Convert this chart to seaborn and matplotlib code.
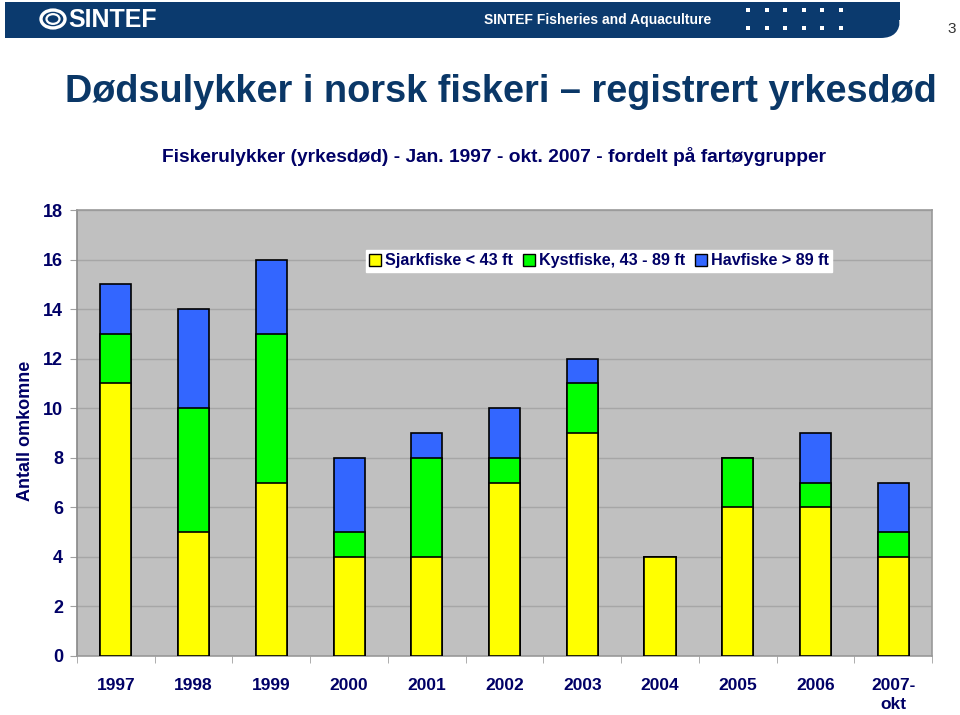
import numpy as np
import pandas as pd
import seaborn as sns
import matplotlib.pyplot as plt
from matplotlib.patches import Rectangle, FancyBboxPatch, Circle

years = ['1997', '1998', '1999', '2000', '2001', '2002', '2003', '2004', '2005', '2006', '2007-\nokt']
sjark = [11, 5, 7, 4, 4, 7, 9, 4, 6, 6, 4]
kyst = [2, 5, 6, 1, 4, 1, 2, 0, 2, 1, 1]
hav = [2, 4, 3, 3, 1, 2, 1, 0, 0, 2, 2]
series = ['Sjarkfiske < 43 ft', 'Kystfiske, 43 - 89 ft', 'Havfiske > 89 ft']
colors = ['#FFFF00', '#00FF00', '#3366FF']

d = pd.DataFrame({'year': years, 'sjark': sjark, 'kyst': kyst, 'hav': hav})
d['lvl1'] = d['sjark']
d['lvl2'] = d['sjark'] + d['kyst']
d['lvl3'] = d['lvl2'] + d['hav']

sns.set_style('white')
plt.rcParams['font.family'] = ['Liberation Sans', 'DejaVu Sans']
navy = '#000066'

fig = plt.figure(figsize=(9.6, 7.15), dpi=100)
W, H = 960, 715


def px(x, y):
    return x / W, 1 - y / H


# header band
hdr = '#0b3a6e'
x0, y0 = px(5, 38)
fig.add_artist(Rectangle((x0, y0), (870 - 5) / W, 36 / H, transform=fig.transFigure, color=hdr, lw=0))
x0, y0 = px(820, 38)
fig.add_artist(FancyBboxPatch((x0, y0), 80 / W, 30 / H, boxstyle='round,pad=0,rounding_size=0.02',
                              transform=fig.transFigure, color=hdr, lw=0, mutation_aspect=W / H))
x0, y0 = px(820, 20)
fig.add_artist(Rectangle((x0, y0), 80 / W, 18 / H, transform=fig.transFigure, color=hdr, lw=0))
cx, cy = px(53, 19)
fig.add_artist(Circle((cx, cy), 12 / W, transform=fig.transFigure, fill=False, ec='white', lw=2.4))
fig.add_artist(Circle((cx, cy), 6.5 / W, transform=fig.transFigure, fill=False, ec='white', lw=1.6))
fig.text(*px(68, 20), 'SINTEF', color='white', fontsize=18, fontweight='bold', va='center', ha='left')
fig.text(*px(598, 20), 'SINTEF Fisheries and Aquaculture', color='white', fontsize=10,
         fontweight='bold', va='center', ha='center')
for row in (10, 28):
    for i in range(6):
        bx, by = px(748 + i * 18.5 - 2, row + 2)
        fig.add_artist(Rectangle((bx, by), 4 / W, 4 / H, transform=fig.transFigure, color='white', lw=0))
fig.text(*px(952, 29), '3', color='#333333', fontsize=11, va='center', ha='center')

# titles
fig.text(*px(501, 92), 'Dødsulykker i norsk fiskeri \u2013 registrert yrkesdød', color='#0a3767',
         fontsize=27.3, fontweight='bold', ha='center', va='center')
fig.text(*px(494, 156), 'Fiskerulykker (yrkesdød) - Jan. 1997 - okt. 2007 - fordelt på fartøygrupper',
         color=navy, fontsize=13.8, fontweight='bold', ha='center', va='center')

ax = fig.add_axes([77 / W, 1 - 656 / H, (932 - 77) / W, (656 - 210) / H])
ax.set_facecolor('#C0C0C0')

for col, c in zip(['lvl3', 'lvl2', 'lvl1'], colors[::-1]):
    sns.barplot(data=d, x='year', y=col, color=c, edgecolor='black', linewidth=1.2,
                width=0.4, saturation=1, ax=ax, zorder=3)

ax.set_ylim(0, 18)
ax.set_xlim(-0.5, len(years) - 0.5)
ax.set_yticks(range(0, 19, 2))
ax.yaxis.grid(True, color='#A6A6A6', lw=1, zorder=0)
ax.set_axisbelow(True)
ax.set_xlabel('')
ax.set_ylabel('Antall omkomne', color=navy, fontsize=13, fontweight='bold')
ax.yaxis.set_label_coords(-43 / 855, 0.505)
ax.tick_params(axis='y', length=5, color='#A0A0A0', direction='out', labelcolor=navy,
               labelsize=13, pad=5, left=True)
for t in ax.get_yticklabels():
    t.set_fontweight('bold')
ax.set_xticks(range(len(years)))
ax.set_xticklabels(years, fontweight='bold', fontsize=12.5, color=navy, linespacing=1.3, va='top')
ax.tick_params(axis='x', length=0, pad=16)
ax.set_xticks(np.arange(-0.5, len(years), 1), minor=True)
ax.tick_params(axis='x', which='minor', length=5, color='#A0A0A0', direction='out', bottom=True)
for s in ['top', 'right', 'bottom']:
    ax.spines[s].set_color('#999999')
ax.spines['left'].set_color('#888888')
for s in ax.spines.values():
    s.set_linewidth(1.2)

handles = [Rectangle((0, 0), 1, 1, fc=c, ec='black', lw=1) for c in colors]
leg = ax.legend(handles, series, ncol=3, loc='center', bbox_to_anchor=(0.6105, 0.8857),
                frameon=True, fancybox=False, framealpha=1, edgecolor='white',
                handlelength=0.75, handleheight=0.75, handletextpad=0.25, columnspacing=0.6,
                borderpad=0.2, prop={'weight': 'bold', 'size': 11.6})
for t in leg.get_texts():
    t.set_color(navy)

fig.savefig('out.png', dpi=100)
